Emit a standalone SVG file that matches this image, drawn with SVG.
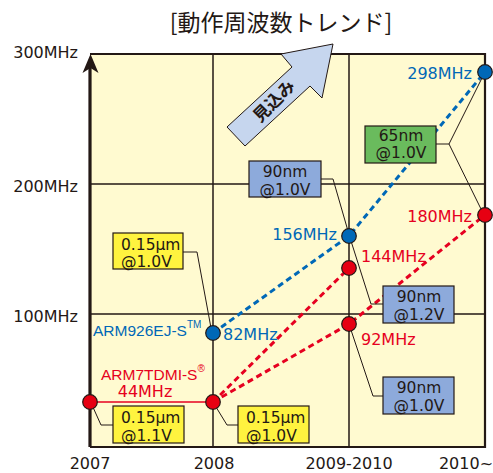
<svg xmlns="http://www.w3.org/2000/svg" width="493" height="473" viewBox="0 0 493 473">
<style>
.ax{fill:#231815;font-family:"DejaVu Sans","Liberation Sans",sans-serif;font-size:16px}
.lb{font-family:"DejaVu Sans","Liberation Sans",sans-serif;font-size:16px}
.arm{font-family:"Liberation Sans","DejaVu Sans",sans-serif;font-size:15.5px}
.bx{fill:#231815;font-family:"DejaVu Sans","Liberation Sans",sans-serif;font-size:15.5px}
.blue{fill:#0068B7}
.red{fill:#E60020}
.grid{stroke:#231815;stroke-width:1.5;fill:none}
.frame{stroke:#231815;stroke-width:2.2;fill:none}
.lead{stroke:#231815;stroke-width:1;fill:none}
.dashB{stroke:#0068B7;stroke-width:3;stroke-dasharray:6 4;fill:none}
.dashR{stroke:#E60020;stroke-width:3;stroke-dasharray:6 4;fill:none}
.dotB{fill:#0068B7;stroke:#231815;stroke-width:1.2}
.dotR{fill:#E60012;stroke:#231815;stroke-width:1.2}
.yel{fill:#FFF33F;stroke:#231815;stroke-width:1.2}
.bbox{fill:#8DAADB;stroke:#231815;stroke-width:1.2}
.gbox{fill:#6ABB5D;stroke:#231815;stroke-width:1.2}
</style>
<rect width="493" height="473" fill="#FFFFFF"/>
<text x="281" y="31" text-anchor="middle" fill="#231815" font-family="'Noto Sans CJK JP','Noto Sans CJK SC',sans-serif" font-size="23">[動作周波数トレンド]</text>
<g id="chart">
<rect x="90" y="54" width="395" height="393" fill="#FFFAD0"/>
<path class="grid" d="M213,54V447M349,54V447M90,184H485M90,314H485"/>
<path class="frame" d="M90,54H485V447H90"/>
<line x1="90" y1="447" x2="90" y2="66" stroke="#231815" stroke-width="3.2"/>
<path d="M90.5,54 L98.5,73 L90.5,68 L82.5,73 Z" fill="#231815"/>
</g>
<g id="axis-labels">
<text class="ax" x="78" y="58" text-anchor="end">300MHz</text>
<text class="ax" x="78" y="192" text-anchor="end">200MHz</text>
<text class="ax" x="78" y="322" text-anchor="end">100MHz</text>
<text class="ax" x="90" y="469" text-anchor="middle">2007</text>
<text class="ax" x="214" y="469" text-anchor="middle">2008</text>
<text class="ax" x="349" y="469" text-anchor="middle">2009-2010</text>
<text class="ax" x="466" y="469" text-anchor="middle">2010~</text>
</g>
<g id="trend-arrow">
<polygon points="333,44 322,98 310,86 245,146 227,127 292,67 281,54" fill="#C6D6EE" stroke="#231815" stroke-width="1"/>
<text x="0" y="0" transform="translate(274,101) rotate(-45)" text-anchor="middle" fill="#231815" font-family="'Noto Sans CJK JP','Noto Sans CJK SC',sans-serif" font-weight="bold" font-size="17" dy="6">見込み</text>
</g>
<g id="connectors">
<polyline class="dashB" points="213,333 349,236 485,72"/>
<line class="dashR" x1="213" y1="402" x2="349" y2="268"/>
<polyline class="dashR" points="213,402 349,324 485,215"/>
<line x1="90" y1="402" x2="213" y2="402" stroke="#E60020" stroke-width="1.5"/>
<polyline class="lead" points="183,252 197,252 211,328"/>
<polyline class="lead" points="92,405 101,425 113,425"/>
<polyline class="lead" points="216,407 227,425 238,425"/>
<polyline class="lead" points="321,179 333,179 348,231"/>
<polyline class="lead" points="436,144 449,144 482,78"/>
<polyline class="lead" points="449,144 481,209"/>
<polyline class="lead" points="351,241 371,304 383,304"/>
<polyline class="lead" points="351,330 373,396 383,396"/>
</g>
<g id="node-arm926-82">
<circle class="dotB" cx="213" cy="333" r="7.3"/>
<text class="arm blue" x="93" y="336">ARM926EJ-S<tspan font-size="10" dy="-8">TM</tspan></text>
<text class="lb blue" x="223" y="340">82MHz</text>
</g>
<g id="node-156">
<circle class="dotB" cx="349" cy="236" r="7.3"/>
<text class="lb blue" x="337" y="240" text-anchor="end">156MHz</text>
</g>
<g id="node-298">
<circle class="dotB" cx="485" cy="72" r="7.3"/>
<text class="lb blue" x="472" y="79" text-anchor="end">298MHz</text>
</g>
<g id="node-arm7-2007">
<circle class="dotR" cx="90" cy="402" r="7.3"/>
<text class="arm red" x="101" y="380">ARM7TDMI-S<tspan font-size="10" dy="-8">®</tspan></text>
<text class="lb red" x="145" y="397" text-anchor="middle">44MHz</text>
</g>
<g id="node-arm7-2008">
<circle class="dotR" cx="213" cy="402" r="7.3"/>
</g>
<g id="node-144">
<circle class="dotR" cx="349" cy="268" r="7.3"/>
<text class="lb red" x="361" y="262">144MHz</text>
</g>
<g id="node-92">
<circle class="dotR" cx="349" cy="324" r="7.3"/>
<text class="lb red" x="361" y="345">92MHz</text>
</g>
<g id="node-180">
<circle class="dotR" cx="485" cy="215" r="7.3"/>
<text class="lb red" x="472" y="222" text-anchor="end">180MHz</text>
</g>
<g id="box-015-10-top">
<rect class="yel" x="113" y="233" width="70" height="36"/>
<text class="bx" x="121" y="250">0.15µm</text>
<text class="bx" x="121" y="267">@1.0V</text>
</g>
<g id="box-015-11">
<rect class="yel" x="113" y="406" width="71" height="37"/>
<text class="bx" x="121" y="423">0.15µm</text>
<text class="bx" x="121" y="441">@1.1V</text>
</g>
<g id="box-015-10-bottom">
<rect class="yel" x="238" y="406" width="71" height="37"/>
<text class="bx" x="246" y="423">0.15µm</text>
<text class="bx" x="246" y="441">@1.0V</text>
</g>
<g id="box-90-10-upper">
<rect class="bbox" x="249" y="161" width="72" height="36"/>
<text class="bx" x="285" y="177" text-anchor="middle">90nm</text>
<text class="bx" x="285" y="195" text-anchor="middle">@1.0V</text>
</g>
<g id="box-65-10">
<rect class="gbox" x="365" y="126" width="71" height="37"/>
<text class="bx" x="401" y="141" text-anchor="middle">65nm</text>
<text class="bx" x="401" y="158" text-anchor="middle">@1.0V</text>
</g>
<g id="box-90-12">
<rect class="bbox" x="383" y="286" width="71" height="37"/>
<text class="bx" x="419" y="302" text-anchor="middle">90nm</text>
<text class="bx" x="419" y="320" text-anchor="middle">@1.2V</text>
</g>
<g id="box-90-10-lower">
<rect class="bbox" x="383" y="377" width="71" height="37"/>
<text class="bx" x="419" y="393" text-anchor="middle">90nm</text>
<text class="bx" x="419" y="411" text-anchor="middle">@1.0V</text>
</g>
</svg>
